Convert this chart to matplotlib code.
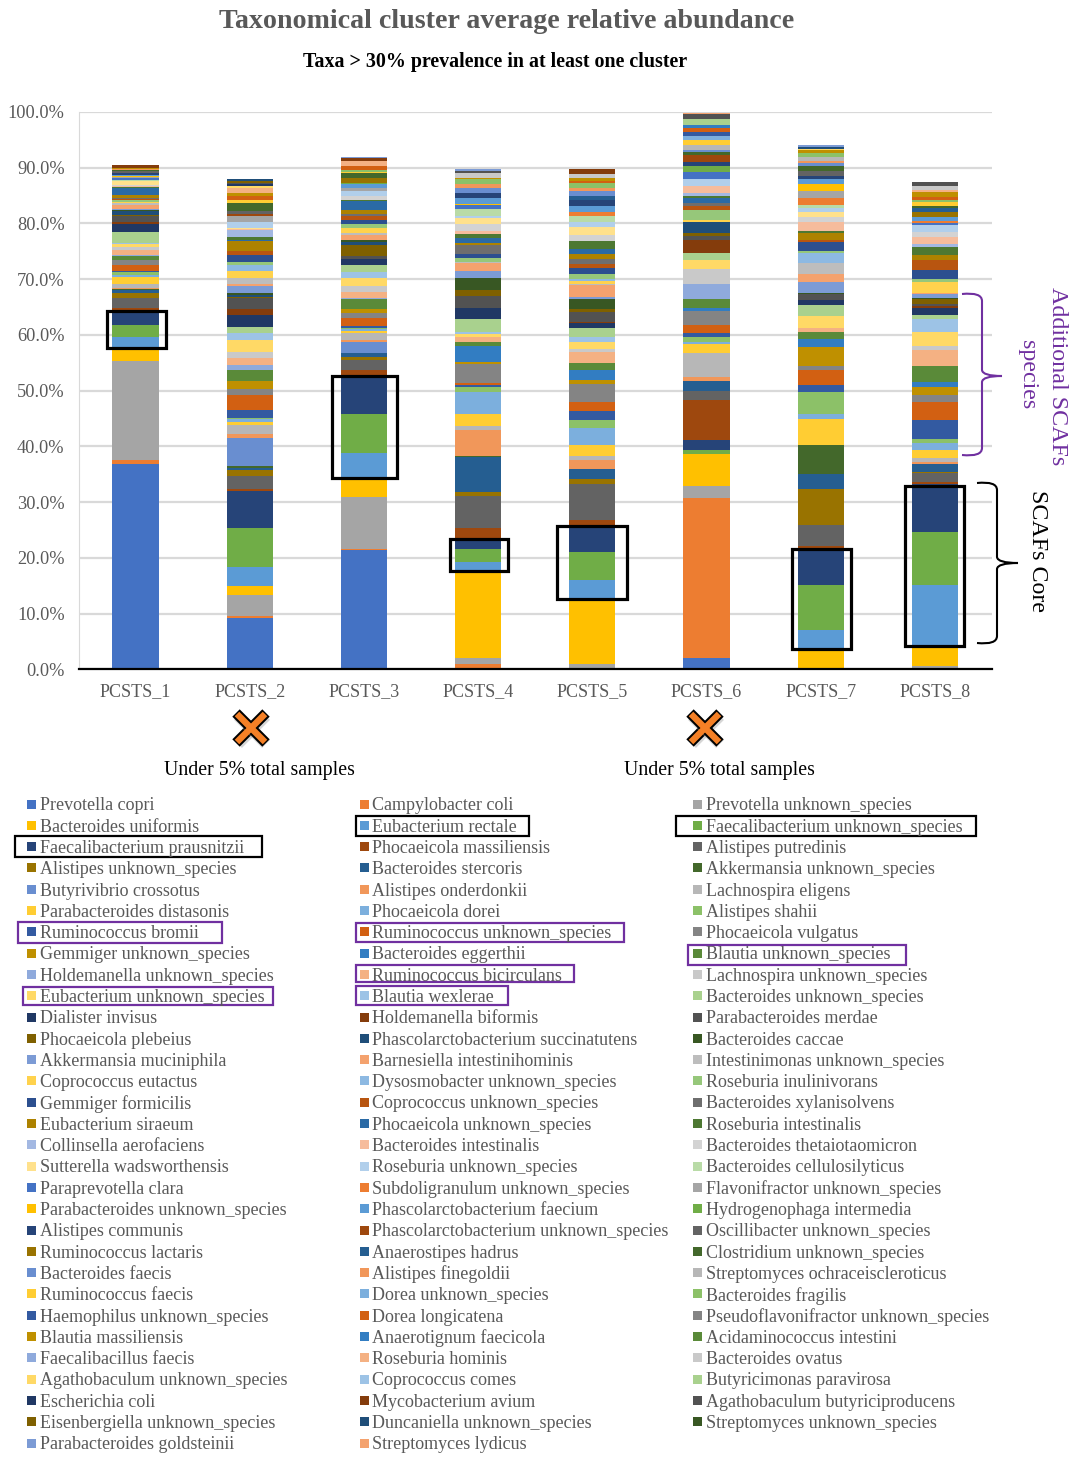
import matplotlib
matplotlib.use("Agg")
import matplotlib.pyplot as plt
import numpy as np
from matplotlib.patches import Rectangle, PathPatch
from matplotlib.path import Path

plt.rcParams['font.family'] = ['Liberation Serif', 'DejaVu Serif']

clusters = ["PCSTS_1", "PCSTS_2", "PCSTS_3", "PCSTS_4", "PCSTS_5", "PCSTS_6", "PCSTS_7", "PCSTS_8"]
y_ticks = [0, 10, 20, 30, 40, 50, 60, 70, 80, 90, 100]

legend_col1 = ["Prevotella copri", "Bacteroides uniformis", "Faecalibacterium prausnitzii",
               "Alistipes unknown_species", "Butyrivibrio crossotus", "Parabacteroides distasonis",
               "Ruminococcus bromii", "Gemmiger unknown_species", "Holdemanella unknown_species",
               "Eubacterium unknown_species", "Dialister invisus", "Phocaeicola plebeius",
               "Akkermansia muciniphila", "Coprococcus eutactus", "Gemmiger formicilis",
               "Eubacterium siraeum", "Collinsella aerofaciens", "Sutterella wadsworthensis",
               "Paraprevotella clara", "Parabacteroides unknown_species", "Alistipes communis",
               "Ruminococcus lactaris", "Bacteroides faecis", "Ruminococcus faecis",
               "Haemophilus unknown_species", "Blautia massiliensis", "Faecalibacillus faecis",
               "Agathobaculum unknown_species", "Escherichia coli", "Eisenbergiella unknown_species",
               "Parabacteroides goldsteinii"]
legend_col2 = ["Campylobacter coli", "Eubacterium rectale", "Phocaeicola massiliensis",
               "Bacteroides stercoris", "Alistipes onderdonkii", "Phocaeicola dorei",
               "Ruminococcus unknown_species", "Bacteroides eggerthii", "Ruminococcus bicirculans",
               "Blautia wexlerae", "Holdemanella biformis", "Phascolarctobacterium succinatutens",
               "Barnesiella intestinihominis", "Dysosmobacter unknown_species", "Coprococcus unknown_species",
               "Phocaeicola unknown_species", "Bacteroides intestinalis", "Roseburia unknown_species",
               "Subdoligranulum unknown_species", "Phascolarctobacterium faecium",
               "Phascolarctobacterium unknown_species", "Anaerostipes hadrus", "Alistipes finegoldii",
               "Dorea unknown_species", "Dorea longicatena", "Anaerotignum faecicola",
               "Roseburia hominis", "Coprococcus comes", "Mycobacterium avium",
               "Duncaniella unknown_species", "Streptomyces lydicus"]
legend_col3 = ["Prevotella unknown_species", "Faecalibacterium unknown_species", "Alistipes putredinis",
               "Akkermansia unknown_species", "Lachnospira eligens", "Alistipes shahii",
               "Phocaeicola vulgatus", "Blautia unknown_species", "Lachnospira unknown_species",
               "Bacteroides unknown_species", "Parabacteroides merdae", "Bacteroides caccae",
               "Intestinimonas unknown_species", "Roseburia inulinivorans", "Bacteroides xylanisolvens",
               "Roseburia intestinalis", "Bacteroides thetaiotaomicron", "Bacteroides cellulosilyticus",
               "Flavonifractor unknown_species", "Hydrogenophaga intermedia", "Oscillibacter unknown_species",
               "Clostridium unknown_species", "Streptomyces ochraceiscleroticus", "Bacteroides fragilis",
               "Pseudoflavonifractor unknown_species", "Acidaminococcus intestini", "Bacteroides ovatus",
               "Butyricimonas paravirosa", "Agathobaculum butyriciproducens", "Streptomyces unknown_species"]

# one value per taxon, legend order read across the rows (6 per line = one colour round)
pcsts_1 = [36.9, 0.7, 17.7, 2.0, 2.3, 2.2,
           2.2, 0.9, 1.8, 0.8, 0.6, 0.1,
           0, 0.2, 0.8, 1.2, 0.4, 0.5,
           0.1, 1.1, 0.9, 0.1, 0, 0.6,
           0.2, 1.0, 0.4, 0.7, 0.1, 1.9,
           1.6, 0.2, 1.1, 0.3, 0.7, 0.2,
           0.1, 0.7, 0.4, 0.1, 0.1, 0.3,
           0.1, 0.1, 0.1, 0.7, 1.1, 0.2,
           0.1, 0.1, 0.2, 0.7, 0.1, 0.1,
           0.4, 0, 0.1, 0.2, 0.2, 0,
           0.3, 0, 0.4, 0, 0.1, 0.1,
           0, 0.1, 0, 0.1, 0, 0,
           0, 0, 0, 0.2, 0, 0,
           0, 0, 0, 0, 0, 0,
           0, 0.5, 0, 0, 0, 0,
           0, 0]
pcsts_2 = [9.3, 0.3, 3.8, 1.5, 3.4, 7.15,
           6.5, 0.35, 2.35, 1.2, 0.35, 0.3,
           5.1, 0.6, 1.6, 0.6, 0.5, 0.3,
           1.3, 2.8, 1.1, 1.3, 0, 2.1,
           0.9, 1.2, 1.0, 2.2, 1.2, 1.1,
           2.2, 1.0, 2.1, 0.1, 0.3, 0.5,
           1.2, 0.3, 1.2, 1.1, 1.1, 0.6,
           1.3, 0.7, 0, 1.7, 0.2, 0.5,
           1.3, 0.2, 0.1, 0.1, 1.0, 0,
           0, 0, 1.2, 0, 0, 0,
           0, 0.3, 0.6, 0, 0, 1.3,
           0, 0, 0, 0.7, 0, 0,
           0, 0.7, 0, 0.5, 0, 0,
           0, 0.8, 0, 0.4, 0, 0,
           0.3, 0, 0.3, 0.4, 0.2, 0.1,
           0, 0]
pcsts_3 = [21.5, 0.1, 9.3, 3.3, 4.6, 7.1,
           7.0, 0.8, 1.9, 0.4, 0.7, 0.1,
           1.9, 0.4, 1.2, 0.5, 0.2, 0.2,
           0.4, 1.5, 0.8, 0.7, 0.1, 1.8,
           0.1, 1.1, 1.1, 1.4, 1.1, 1.3,
           1.1, 0, 0.4, 2.1, 0.5, 0.4,
           0, 0.8, 0.4, 0.9, 0, 0.7,
           0.7, 0.8, 0.3, 0.7, 1.6, 0.2,
           0, 0, 0.8, 0, 0.9, 0,
           0, 0, 0.5, 0, 0.7, 0.1,
           0, 0, 0, 1.0, 0, 0.9,
           0, 0, 0, 0.2, 0, 0.3,
           0, 0.8, 0, 0, 0, 0,
           0, 0.8, 0, 0, 0, 0,
           0, 0.5, 0, 0, 0, 0,
           0.3, 0]
pcsts_4 = [0, 1.0, 1.0, 15.5, 1.7, 2.4,
           1.8, 1.9, 5.8, 0.8, 6.2, 0.2,
           0, 4.7, 0.6, 2.2, 4.0, 0.8,
           0.4, 0.4, 3.4, 0.3, 2.9, 0.7,
           0, 0.9, 0, 0.6, 0.3, 2.4,
           1.9, 0, 2.2, 1.1, 0, 2.1,
           1.2, 1.5, 0.2, 0, 0, 0.8,
           0.7, 0, 1.6, 0.3, 0.9, 0.7,
           0, 0.5, 1.3, 1.1, 0.4, 1.2,
           0.7, 0, 0, 0.2, 1.1, 0,
           0.8, 0, 0, 0, 0, 0,
           0.9, 0.8, 0, 0, 0, 0.8,
           0, 0, 0, 0.3, 0, 0,
           0, 0, 0.8, 0, 0, 0,
           0, 0, 0.5, 0, 0, 0,
           0.2, 0]
pcsts_5 = [0, 0.2, 0.8, 11.4, 3.6, 5.0,
           4.9, 1.0, 6.4, 0.9, 1.8, 0,
           0, 1.5, 0.8, 1.9, 3.2, 1.3,
           1.6, 1.7, 3.3, 0.7, 1.7, 1.3,
           0, 2.0, 0.5, 1.3, 0.8, 1.6,
           1.0, 0.2, 1.8, 0.4, 0, 1.8,
           0.5, 2.0, 0.3, 0.5, 0.3, 1.0,
           1.0, 0.7, 0.9, 1.0, 0.8, 1.4,
           0, 0, 1.2, 1.3, 1.0, 1.0,
           0.1, 0.6, 0, 0.1, 1.1, 0,
           1.1, 0, 0, 0, 0.7, 0,
           0.9, 0.4, 0, 0, 0, 1.0,
           0, 0.3, 0, 0.6, 0, 0,
           0, 0, 0.7, 0, 0, 0,
           0, 0.9, 0, 0, 0, 0,
           0, 0]
pcsts_6 = [2.0, 28.8, 2.2, 5.7, 0, 0.6,
           1.8, 7.3, 1.6, 0, 1.7, 0,
           0, 0.7, 4.4, 1.6, 0.4, 0.9,
           0.6, 1.5, 2.5, 0, 0.5, 1.7,
           2.7, 0, 2.7, 1.5, 0, 1.3,
           0, 2.3, 0.8, 0.5, 1.9, 0,
           0, 0, 0, 0.5, 0, 1.7,
           0, 0.7, 0.5, 0, 0.9, 0.5,
           0.4, 1.4, 0, 0, 1.2, 0,
           1.3, 0, 0, 0, 0, 1.1,
           0.7, 1.1, 0, 0, 0, 0.6,
           0.4, 0, 0.9, 0.8, 0.8, 0,
           0.8, 0.6, 0, 0, 0.6, 0,
           0, 0, 0, 0, 0, 1.0,
           0, 0, 0.9, 0, 0, 0,
           0, 0.3]
pcsts_7 = [0, 0, 0.2, 3.3, 3.5, 8.1,
           6.6, 0.4, 3.9, 6.4, 2.6, 5.3,
           0, 0, 0, 4.6, 1.0, 3.8,
           1.3, 2.8, 0.7, 3.3, 1.5, 1.3,
           0, 0.6, 0, 2.2, 0, 2.0,
           0.8, 0, 1.2, 0, 0, 0.2,
           1.9, 1.4, 2.0, 0.1, 1.7, 0.3,
           1.6, 0.5, 0, 1.2, 0, 0.4,
           0, 1.5, 1.0, 0.8, 0.7, 0.7,
           0, 1.2, 1.2, 1.2, 1.0, 0,
           0.5, 0, 0.9, 0, 0, 1.0,
           0.4, 0.4, 0.8, 0, 0, 0.7,
           0, 0, 0, 0.4, 0, 0,
           0, 0, 0, 0.3, 0, 0,
           0, 0, 0, 0, 0.4, 0,
           0.3, 0]
pcsts_8 = [0, 0, 0.7, 3.5, 10.9, 9.5,
           8.7, 0.3, 1.7, 0.1, 1.4, 0,
           0, 0.4, 0.8, 1.3, 1.4, 0.6,
           3.4, 3.3, 1.2, 1.5, 0.9, 2.8,
           0, 2.9, 0.7, 2.5, 2.3, 0.7,
           1.3, 0.4, 0.3, 0.9, 0, 0.3,
           0.7, 0.2, 0, 1.9, 0, 0.5,
           1.7, 1.7, 0.1, 0.9, 0, 1.4,
           0.5, 1.3, 0.8, 0, 1.4, 0,
           0.3, 0.4, 0, 0, 0.7, 0,
           0, 0, 0, 0.8, 0.7, 0.4,
           0, 0, 0, 0.7, 0, 0.5,
           0, 0.5, 0, 0.9, 0, 0,
           0, 0.3, 0.7, 0, 0, 0,
           0, 0, 0.7, 0, 0, 0,
           0, 0]

# office style colour rounds
rounds = [["#4472C4", "#ED7D31", "#A5A5A5", "#FFC000", "#5B9BD5", "#70AD47"],
          ["#264478", "#9E480E", "#636363", "#997300", "#255E91", "#43682B"],
          ["#698ED0", "#F1975A", "#B7B7B7", "#FFCD33", "#7CAFDD", "#8CC168"],
          ["#335AA1", "#D26012", "#848484", "#BF9000", "#327DC2", "#5A8A39"],
          ["#8FAADC", "#F4B183", "#C9C9C9", "#FFD966", "#9DC3E6", "#A9D18E"],
          ["#203864", "#843C0C", "#525252", "#7F6000", "#1F4E79", "#385723"],
          ["#7C9BD5", "#F4A26E", "#BDBDBD", "#FFD24D", "#8DB9E2", "#96C77A"],
          ["#2C4F8F", "#B85510", "#6E6E6E", "#AD8200", "#2A6AA5", "#4D7832"],
          ["#A3B8E2", "#F6BC9C", "#D3D3D3", "#FFE18C", "#B1CFEB", "#B9DBA7"]]

def series_color(i):
    return rounds[(i//6) % len(rounds)][i % 6]

def brace(ax, x0, x1, x2, y0, ym, y1, color):
    # x0 = open end, x1 = spine, x2 = tip
    verts = [(x0, y0), (x1, y0-2), (x1, y0+7), (x1, ym-6), (x1+0.5, ym), (x2, ym),
             (x1+0.5, ym), (x1, ym+6), (x1, y1-7), (x1, y1+2), (x0, y1)]
    codes = [Path.MOVETO, Path.CURVE3, Path.CURVE3, Path.LINETO, Path.CURVE3, Path.CURVE3,
             Path.CURVE3, Path.CURVE3, Path.LINETO, Path.CURVE3, Path.CURVE3]
    ax.add_patch(PathPatch(Path(verts, codes), fill=False, edgecolor=color, lw=1.5))

gray = "#595959"
purple = "#7030A0"

fig = plt.figure(figsize=(10.8, 14.6), dpi=100)
ax = fig.add_axes([78.5/1080, 1-669.5/1460, (992-78.5)/1080, (669.5-112)/1460])

values = np.array([pcsts_1, pcsts_2, pcsts_3, pcsts_4, pcsts_5, pcsts_6, pcsts_7, pcsts_8])
x = np.arange(len(clusters))
bottom = np.zeros(len(clusters))
for i in range(values.shape[1]):
    ax.bar(x, values[:, i], 0.405, bottom=bottom, color=series_color(i), linewidth=0, zorder=3)
    bottom += values[:, i]

ax.set_xlim(-0.5, 7.5)
ax.set_ylim(0, 100)
ax.set_yticks(y_ticks)
ax.set_yticklabels(["%.1f%%" % t for t in y_ticks], fontsize=13.2, color=gray)
ax.set_xticks(x)
ax.set_xticklabels(clusters, fontsize=13, color=gray)
ax.tick_params(axis='both', length=0)
ax.tick_params(axis='y', pad=10)
ax.tick_params(axis='x', pad=9.5)
ax.grid(axis='y', color="#D9D9D9", lw=1.6, zorder=0)
ax.set_axisbelow(True)
for s in ['top', 'right']:
    ax.spines[s].set_visible(False)
ax.spines['left'].set_color("#D9D9D9")
ax.spines['bottom'].set_color("black")
ax.spines['bottom'].set_linewidth(1.6)
ax.spines['bottom'].set_zorder(5)

# everything else goes on a pixel overlay
ov = fig.add_axes([0, 0, 1, 1], facecolor='none')
ov.set_xlim(0, 1080)
ov.set_ylim(1460, 0)
ov.axis('off')

ov.text(506.5, 21, "Taxonomical cluster average relative abundance", ha='center', va='center',
        fontsize=20.2, fontweight='bold', color=gray)
ov.text(495, 62, "Taxa > 30% prevalence in at least one cluster", ha='center', va='center',
        fontsize=14.4, fontweight='bold', color='black')

boxes = [(107, 311, 166, 348), (332, 376, 397, 478), (450, 539, 508, 571),
         (557, 526, 627, 599), (792, 549, 851, 649), (905, 486, 964, 646)]
for b in boxes:
    ov.add_patch(Rectangle((b[0], b[1]), b[2]-b[0], b[3]-b[1], fill=False, edgecolor='black', lw=2.3))

brace(ov, 962, 982, 1002, 294, 376, 455, purple)
brace(ov, 977, 997, 1018, 483, 563, 643, 'black')
ov.text(1058, 376, "Additional SCAFs", rotation=270, ha='center', va='center', fontsize=17.3, color=purple)
ov.text(1028, 375, "species", rotation=270, ha='center', va='center', fontsize=17.3, color=purple)
ov.text(1037, 551, "SCAFs Core", rotation=270, ha='center', va='center', fontsize=17.3, color='black')

# crosses under the two small clusters
for cx in [251, 705]:
    for dx in [-1, 1]:
        ov.plot([cx-14*dx+1, cx+14*dx+1], [716, 744], color='#999999', lw=8, alpha=0.4, solid_capstyle='butt')
        ov.plot([cx-15*dx, cx+15*dx], [713, 743], color='black', lw=7.5, solid_capstyle='butt')
    for dx in [-1, 1]:
        ov.plot([cx-14*dx, cx+14*dx], [714, 742], color='#F58026', lw=4.6, solid_capstyle='butt')

ov.text(259, 770, "Under 5% total samples", ha='center', va='center', fontsize=14.3, color='black')
ov.text(719, 770, "Under 5% total samples", ha='center', va='center', fontsize=14.3, color='black')

# legend, three columns filled across
col_x = [27, 360, 693]
row0 = 804
row_h = 21.3
for c, names in enumerate([legend_col1, legend_col2, legend_col3]):
    for r, name in enumerate(names):
        y = row0 + r*row_h
        ov.add_patch(Rectangle((col_x[c], y-4.5), 9, 9, facecolor=series_color(r*3+c), edgecolor='none'))
        ov.text(col_x[c]+12.5, y+1.8, name, ha='left', va='center', fontsize=12.95, color=gray)

black_boxes = [(15, 836, 262, 857), (356, 816, 529, 836), (676, 816, 976, 836)]
purple_boxes = [(18, 922, 222, 943), (356, 923, 624, 942), (688, 945, 906, 965),
                (356, 965, 574, 982), (23, 987, 273, 1005), (356, 986, 508, 1005)]
for b in black_boxes:
    ov.add_patch(Rectangle((b[0], b[1]), b[2]-b[0], b[3]-b[1], fill=False, edgecolor='black', lw=1.6))
for b in purple_boxes:
    ov.add_patch(Rectangle((b[0], b[1]), b[2]-b[0], b[3]-b[1], fill=False, edgecolor=purple, lw=1.6))

fig.savefig("out.png", dpi=100)
